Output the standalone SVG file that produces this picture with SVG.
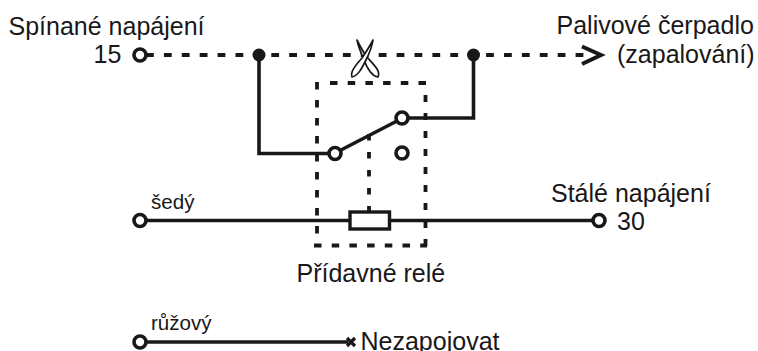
<svg xmlns="http://www.w3.org/2000/svg" width="758" height="351" viewBox="0 0 758 351">
<style>
text{font-family:"Liberation Sans",Arial,sans-serif;fill:#1a1718}
.t{font-size:25px}
.s{font-size:20.6px}
.w{fill:none;stroke:#1a1718;stroke-width:3.6}
.d{fill:none;stroke:#1a1718;stroke-width:3.8}
.o{fill:#fff;stroke:#1a1718;stroke-width:3.6}
.b{fill:#1a1718}
.c{fill:#fff;stroke:#1a1718;stroke-width:1.7;stroke-linejoin:round}
</style>
<rect width="758" height="351" fill="#fff"/>
<g id="connectors">
<path class="d" stroke-dasharray="7.8 10.1" d="M146 55H586"/>
<path class="w" d="M259 55V153.500H331"/>
<path class="w" d="M473.500 55V118H408"/>
<path class="w" d="M340 150.500L397 121"/>
<path class="w" d="M145 220.500H350M390 220.500H593"/>
<path class="w" d="M145 342H348"/>
<path class="d" stroke-dasharray="7.500 10.200" d="M330 83H427"/>
<path class="d" stroke-dasharray="7.500 10.500" d="M317 82V246"/>
<path class="d" stroke-dasharray="7 11" d="M425.500 95V247"/>
<path class="d" stroke-dasharray="7.500 10.200" d="M314 245.500H427"/>
<path class="d" stroke-dasharray="6.500 11.500" d="M369 134V212"/>
</g>
<g id="terminal-15"><circle class="o" cx="140" cy="55" r="6"/></g>
<g id="junction-left"><circle class="b" cx="259" cy="55" r="6.500"/></g>
<g id="junction-right"><circle class="b" cx="473.500" cy="55" r="6.500"/></g>
<g id="arrow"><path d="M582 46.500L601 55L582 64" fill="none" stroke="#1a1718" stroke-width="4"/></g>
<g id="scissors">
<path class="c" d="M357 40C360 46 363 52 367 57C374 65 381 71 378 77C372 76 367 68 364 60C361 53 358 46 357 40Z"/>
<path class="c" d="M373 40C370 46 366 52 362 58C355 66 350 72 352 77C358 76 362 68 366 60C369 54 372 47 373 40Z"/>
</g>
<g id="contact-a"><circle class="o" cx="335" cy="153.500" r="6"/></g>
<g id="contact-b"><circle class="o" cx="402" cy="118" r="6"/></g>
<g id="contact-c"><circle class="o" cx="402" cy="153" r="6"/></g>
<g id="coil"><rect x="350" y="212" width="39.500" height="17" fill="#fff" stroke="#1a1718" stroke-width="3.400"/></g>
<g id="terminal-grey"><circle class="o" cx="140" cy="220.500" r="6"/></g>
<g id="terminal-30"><circle class="o" cx="599" cy="220.500" r="6"/></g>
<g id="terminal-pink"><circle class="o" cx="140" cy="342" r="6"/></g>
<g id="end-x"><path d="M347 338L355 346M355 338L347 346" stroke="#1a1718" stroke-width="3.200" fill="none"/></g>
<g id="labels">
<text class="t" x="8.500" y="35">Spínané napájení</text>
<text class="t" x="93.500" y="63">15</text>
<text class="t" x="556.500" y="34">Palivové čerpadlo</text>
<text class="t" x="617" y="63">(zapalování)</text>
<text class="s" x="151" y="209">šedý</text>
<text class="t" x="551" y="202">Stálé napájení</text>
<text class="t" x="617" y="230">30</text>
<text class="t" x="296.500" y="282">Přídavné relé</text>
<text class="s" x="151" y="330">růžový</text>
<text class="t" x="360.500" y="350">Nezapojovat</text>
</g>
</svg>
